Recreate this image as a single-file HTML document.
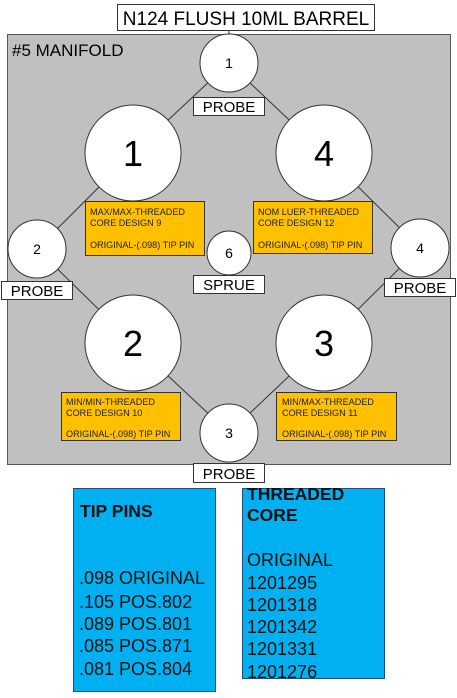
<!DOCTYPE html>
<html><head><meta charset="utf-8"><style>
body{margin:0;background:#fff;width:457px;height:693px;overflow:hidden}
svg text{font-family:"Liberation Sans",Arial,sans-serif}
</style></head><body>
<svg width="457" height="693" xmlns="http://www.w3.org/2000/svg">
<rect x="7.5" y="34.5" width="443" height="430" fill="#c0c0c0" stroke="#555" stroke-width="1"/>
<line x1="229" y1="30" x2="229" y2="35" stroke="#333"/>
<rect x="117.5" y="4.5" width="257" height="26" fill="#fff" stroke="#333"/>
<text x="246" y="25" font-size="19" text-anchor="middle">N124 FLUSH 10ML BARREL</text>
<text x="12" y="56" font-size="17">#5 MANIFOLD</text>
<g stroke="#333" stroke-width="1">
<line x1="229" y1="63" x2="133" y2="153"/>
<line x1="229" y1="63" x2="324" y2="153"/>
<line x1="133" y1="153" x2="37" y2="249"/>
<line x1="324" y1="153" x2="420" y2="248"/>
<line x1="37" y1="249" x2="133" y2="343"/>
<line x1="420" y1="248" x2="324" y2="343"/>
<line x1="133" y1="343" x2="229" y2="433"/>
<line x1="324" y1="343" x2="229" y2="433"/>
</g>
<g fill="#fff" stroke="#333">
<circle cx="229" cy="63" r="29"/>
<circle cx="133" cy="153" r="48"/>
<circle cx="324" cy="153" r="48"/>
<circle cx="37" cy="249" r="29"/>
<circle cx="420" cy="248" r="29"/>
<circle cx="229" cy="253" r="22"/>
<circle cx="133" cy="343" r="48"/>
<circle cx="324" cy="343" r="48"/>
<circle cx="229" cy="433" r="29"/>
</g>
<g font-size="14" text-anchor="middle">
<text x="229" y="68">1</text>
<text x="37" y="254">2</text>
<text x="420" y="253">4</text>
<text x="229" y="258">6</text>
<text x="229" y="438">3</text>
</g>
<g font-size="36" text-anchor="middle">
<text x="133" y="166">1</text>
<text x="324" y="166">4</text>
<text x="133" y="356">2</text>
<text x="324" y="356">3</text>
</g>
<g fill="#fff" stroke="#333">
<rect x="193.5" y="97.5" width="71" height="18"/>
<rect x="1.5" y="281.5" width="71" height="18"/>
<rect x="193.5" y="275.5" width="71" height="18"/>
<rect x="384.5" y="278.5" width="71" height="18"/>
<rect x="193.5" y="463.5" width="71" height="19"/>
</g>
<g font-size="15" text-anchor="middle">
<text x="229" y="112">PROBE</text>
<text x="37" y="296">PROBE</text>
<text x="229" y="290">SPRUE</text>
<text x="420" y="293">PROBE</text>
<text x="229" y="479">PROBE</text>
</g>
<g fill="#ffc000" stroke="#333">
<rect x="85.5" y="201.5" width="119" height="54"/>
<rect x="253.5" y="201.5" width="119" height="52"/>
<rect x="61.5" y="392.5" width="119" height="48"/>
<rect x="276.5" y="392.5" width="120" height="48"/>
</g>
<g font-size="9.1" fill="#222">
<text x="90" y="215">MAX/MAX-THREADED</text><text x="90" y="226">CORE DESIGN 9</text><text x="90" y="248">ORIGINAL-(.098) TIP PIN</text>
<text x="258" y="215">NOM LUER-THREADED</text><text x="258" y="226">CORE DESIGN 12</text><text x="258" y="248">ORIGINAL-(.098) TIP PIN</text>
<text x="66" y="405">MIN/MIN-THREADED</text><text x="66" y="416">CORE DESIGN 10</text><text x="66" y="437">ORIGINAL-(.098) TIP PIN</text>
<text x="282" y="405">MIN/MAX-THREADED</text><text x="282" y="416">CORE DESIGN 11</text><text x="282" y="437">ORIGINAL-(.098) TIP PIN</text>
</g>
<rect x="73.5" y="488.5" width="142" height="203" fill="#00b0f0" stroke="#1f4e79"/>
<rect x="242.5" y="488.5" width="142" height="190" fill="#00b0f0" stroke="#1f4e79"/>
<g font-size="18" fill="#111">
<text x="80" y="517" font-weight="bold" font-size="17.5">TIP PINS</text>
<text x="79" y="584">.098 ORIGINAL</text>
<text x="79" y="608">.105 POS.802</text>
<text x="79" y="630">.089 POS.801</text>
<text x="79" y="652">.085 POS.871</text>
<text x="79" y="675">.081 POS.804</text>
<text x="247" y="500" font-weight="bold" font-size="17.5">THREADED</text>
<text x="247" y="521" font-weight="bold" font-size="17.5">CORE</text>
<text x="247" y="566">ORIGINAL</text>
<text x="247" y="589">1201295</text>
<text x="247" y="611">1201318</text>
<text x="247" y="633">1201342</text>
<text x="247" y="655">1201331</text>
<text x="247" y="678">1201276</text>
</g>
</svg>
</body></html>
